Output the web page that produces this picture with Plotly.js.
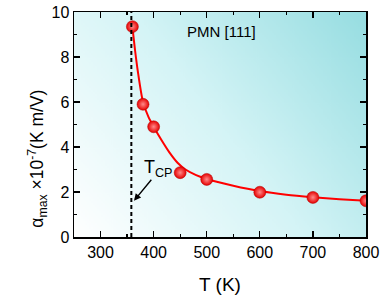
<!DOCTYPE html>
<html>
<head>
<meta charset="utf-8">
<script src="https://cdn.plot.ly/plotly-3.0.1.min.js"></script>
<style>html,body{margin:0;padding:0;background:#fff;}#chart{width:382px;height:300px;}</style>
</head>
<body>
<div id="chart"></div>
<script>
// Measured data points
var tempK = [360, 380, 400, 450, 500, 600, 700, 800];
var alphaMax = [9.35, 5.9, 4.9, 2.86, 2.56, 1.99, 1.76, 1.61];
// Fit curve
var fitT = [360, 365, 370, 380, 390, 400, 415, 430, 445, 460, 480, 500, 550, 600, 650, 700, 750, 800];
var fitA = [9.35, 8.3, 7.4, 6.0, 5.35, 4.9, 4.3, 3.75, 3.3, 3.0, 2.75, 2.58, 2.28, 2.04, 1.88, 1.77, 1.68, 1.61];
var tcp = 358;
var xTicks = [300, 400, 500, 600, 700, 800];
var yTicks = [0, 2, 4, 6, 8, 10];

// background gradient image
var cv = document.createElement('canvas');
cv.width = 300; cv.height = 230;
var ctx = cv.getContext('2d');
var g = ctx.createLinearGradient(0, 230, 300, 0);
g.addColorStop(0, '#ffffff');
g.addColorStop(0.5, '#d4f4f6');
g.addColorStop(1, '#96dde1');
ctx.fillStyle = g;
ctx.fillRect(0, 0, 300, 230);
var bg = cv.toDataURL();

var fnt = 'Liberation Sans, Arial, sans-serif';

var traces = [
  {x: fitT, y: fitA, mode: 'lines', line: {color: '#ff0000', width: 2, shape: 'spline', smoothing: 0.8}, hoverinfo: 'skip', showlegend: false},
  {x: tempK, y: alphaMax, mode: 'markers', showlegend: false,
   marker: {size: 12, color: '#e60000', gradient: {type: 'radial', color: '#ff8a8a'}, line: {width: 0.5, color: '#b00000'}}}
];

var axisCommon = {
  showline: true, linecolor: '#000', linewidth: 1.5, mirror: 'ticks',
  ticks: 'inside', ticklen: 6, tickwidth: 1.2, tickcolor: '#000',
  showgrid: false, zeroline: false,
  tickfont: {family: fnt, size: 16, color: '#000'}
};

var layout = {
  width: 382, height: 300,
  margin: {l: 74, r: 16, t: 12, b: 63},
  paper_bgcolor: '#fff', plot_bgcolor: 'rgba(0,0,0,0)',
  xaxis: Object.assign({}, axisCommon, {
    range: [250, 800], tickvals: xTicks,
    minor: {dtick: 50, tick0: 250, ticks: 'inside', ticklen: 3, tickwidth: 1.2, tickcolor: '#000', showgrid: false},
    title: {text: 'T (K)', font: {family: fnt, size: 19, color: '#000'}, standoff: 18}
  }),
  yaxis: Object.assign({}, axisCommon, {
    range: [0, 10], tickvals: yTicks,
    minor: {dtick: 1, tick0: 0, ticks: 'inside', ticklen: 3, tickwidth: 1.2, tickcolor: '#000', showgrid: false}
  }),
  images: [{source: bg, xref: 'paper', yref: 'paper', x: 0, y: 1, sizex: 1, sizey: 1, sizing: 'stretch', layer: 'below'}],
  shapes: [{type: 'line', xref: 'x', yref: 'paper', x0: tcp, x1: tcp, y0: 0, y1: 1, line: {color: '#000', width: 2, dash: '4px,3px'}, layer: 'above'}],
  annotations: [
    {text: 'α<sub>max</sub> ×10<sup>-7</sup>(K m/V)', textangle: -90, xref: 'paper', yref: 'paper', x: -0.175, y: 0.35, yanchor: 'middle', showarrow: false, font: {family: fnt, size: 17.5, color: '#000'}},
    {text: 'PMN [111]', xref: 'x', yref: 'y', x: 527, y: 9.15, showarrow: false, font: {family: fnt, size: 15, color: '#000'}},
    {text: 'T<sub>CP</sub>', xref: 'x', yref: 'y', x: 410, y: 3.05, showarrow: false, font: {family: fnt, size: 18, color: '#000'}},
    {text: '', xref: 'x', yref: 'y', x: 363, y: 1.61, ax: 398, ay: 2.61, axref: 'x', ayref: 'y', showarrow: true, arrowhead: 2, arrowsize: 1, arrowwidth: 1.4, arrowcolor: '#000'}
  ]
};

Plotly.newPlot('chart', traces, layout, {displayModeBar: false, staticPlot: true});
</script>
</body>
</html>
